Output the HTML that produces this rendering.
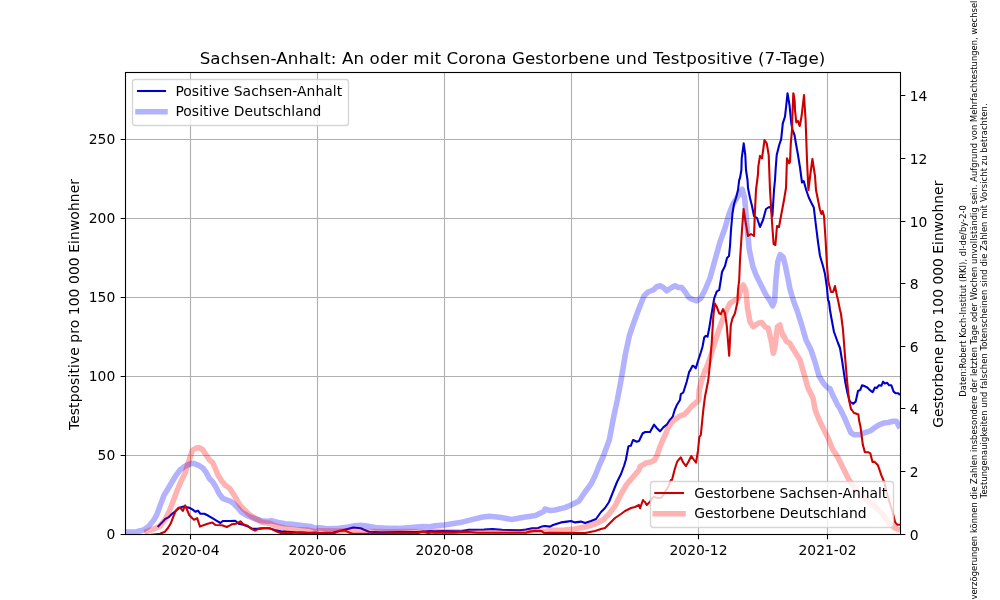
<!DOCTYPE html><html><head><meta charset="utf-8"><title>Sachsen-Anhalt Corona</title>
<style>html,body{margin:0;padding:0;background:#fff;overflow:hidden}svg{display:block}text{font-family:'DejaVu Sans','Liberation Sans',sans-serif}</style></head><body>
<svg width="1000" height="600" viewBox="0 0 1000 600">
<defs><clipPath id="ax"><rect x="125" y="72" width="775" height="462"/></clipPath></defs>
<rect width="1000" height="600" fill="#fff"/>
<path d="M190.5 72V534M317.5 72V534M444.5 72V534M571.5 72V534M698.5 72V534M827.5 72V534M125 455.5H900M125 376.5H900M125 297.5H900M125 218.5H900M125 139.5H900" stroke="#b0b0b0" stroke-width="1.11" fill="none"/>
<g clip-path="url(#ax)" fill="none" stroke-linejoin="round">
<polyline points="157.6,527.0 162.0,522.6 165.2,519.0 168.4,517.4 171.6,514.2 175.6,511.0 179.6,507.8 182.8,506.6 186.0,507.0 189.2,507.8 192.4,509.4 195.6,511.8 198.0,510.6 200.4,513.8 204.4,513.8 208.4,515.8 212.4,518.2 216.4,520.6 220.4,523.0 222.8,521.0 230.0,521.0 235.2,520.8 238.7,523.7 243.3,524.8 248.0,526.6 252.7,528.9 257.3,528.9 262.0,528.3 269.0,528.3 274.8,530.1 280.7,531.3 287.7,531.8 295.8,532.4 307.5,533.0 315.0,532.6 320.0,533.0 333.0,532.6 342.6,530.2 348.6,528.7 353.4,527.5 360.6,528.2 365.4,530.2 369.0,531.8 381.0,532.3 399.0,532.0 417.0,532.0 430.0,531.0 435.0,531.4 442.0,531.0 460.0,531.4 468.4,529.8 484.0,529.5 492.4,529.0 502.0,529.8 520.0,530.2 526.0,529.5 532.0,528.3 538.0,528.0 541.6,526.6 545.0,526.0 550.0,526.6 553.0,525.0 561.0,522.4 567.0,521.6 571.0,521.0 575.0,522.4 581.0,521.6 585.0,523.0 591.0,521.0 596.0,519.0 601.0,512.0 605.0,508.0 609.0,502.0 613.0,492.0 617.0,482.0 621.0,474.0 624.0,466.0 625.8,460.0 627.0,454.0 628.3,446.7 629.0,446.0 630.8,445.8 633.0,440.0 633.3,440.0 636.7,441.7 639.0,441.0 642.7,433.3 645.3,432.0 650.0,432.0 654.0,424.7 656.7,428.0 660.0,431.3 663.3,427.3 666.7,424.7 669.3,420.7 672.7,416.7 674.7,410.0 676.7,405.3 680.0,400.0 680.8,394.2 683.3,392.5 686.7,381.7 689.2,371.7 690.0,370.8 692.5,365.8 693.3,365.8 695.8,368.3 695.8,368.3 698.3,360.0 698.3,360.0 700.8,352.5 702.5,346.7 704.2,337.5 705.8,335.8 707.5,336.7 709.2,328.3 710.8,318.3 712.5,308.3 714.2,298.3 716.7,291.7 719.0,290.0 719.2,290.0 720.8,280.0 722.0,272.0 725.0,266.0 727.0,258.0 729.0,256.0 730.0,246.0 731.0,230.0 732.4,214.0 734.0,204.0 736.0,198.0 738.0,190.0 739.2,180.0 740.0,178.0 741.4,170.0 741.7,158.3 743.7,143.3 745.3,155.0 746.0,170.0 747.5,180.0 748.0,188.0 750.0,198.0 752.0,206.0 754.0,216.0 757.0,218.0 760.0,227.0 763.0,220.0 766.0,209.0 769.0,207.0 771.0,208.0 772.4,216.0 774.0,190.0 775.0,180.0 775.6,170.0 776.7,155.0 779.2,145.0 781.2,139.2 782.8,123.3 785.0,116.7 786.3,105.0 787.5,93.3 789.5,105.0 791.2,122.5 792.5,130.0 794.5,135.0 796.2,145.0 798.0,155.0 800.0,167.5 802.0,182.5 803.8,181.2 806.2,190.0 808.8,197.5 811.2,202.5 813.8,207.5 816.0,226.0 818.0,242.0 820.0,256.0 823.0,266.0 825.0,274.0 827.0,288.0 828.0,300.0 829.0,302.0 830.0,310.0 831.0,316.0 834.0,332.0 838.0,343.0 840.0,348.0 842.0,360.0 845.2,381.7 847.5,393.3 849.8,401.5 853.3,403.8 855.7,401.5 858.0,391.0 860.3,389.8 862.1,385.2 865.0,386.3 867.3,387.5 870.3,390.4 872.6,392.2 874.9,387.5 876.7,388.1 879.0,385.2 881.3,385.8 883.1,381.7 884.8,383.4 887.2,382.8 888.9,385.2 891.3,385.2 893.6,391.6 895.9,393.3 898.3,393.3 900.0,395.1" stroke="#0000cc" stroke-width="2.08"/>
<polyline points="125.0,532.1 136.7,531.7 143.3,530.0 148.3,526.7 153.3,520.8 156.7,515.0 160.0,506.0 164.0,495.3 168.0,488.7 172.0,482.0 176.0,475.3 180.0,470.0 185.3,466.0 190.0,463.9 193.5,463.3 198.2,465.1 202.8,468.0 206.3,472.7 209.3,478.5 212.8,482.0 215.7,486.7 219.2,493.7 222.7,498.3 227.3,500.1 230.8,501.3 234.3,504.2 237.8,507.7 241.3,512.0 248.0,516.0 254.7,518.7 261.3,520.7 268.0,521.3 271.3,520.8 278.3,522.5 285.3,523.7 292.3,524.3 301.7,525.4 311.0,526.6 315.0,528.2 320.0,527.8 327.0,528.8 339.0,528.2 348.6,527.0 354.6,525.8 360.6,525.2 366.6,526.0 375.0,527.6 387.0,528.2 399.0,528.4 411.0,527.6 423.0,526.6 430.0,526.8 435.0,525.8 444.4,525.0 460.0,522.6 472.0,519.6 481.6,517.2 488.8,516.3 499.6,517.2 511.6,519.4 523.6,517.2 535.6,515.4 544.0,511.2 545.0,509.0 550.0,510.6 555.0,510.0 565.0,507.6 571.0,505.0 579.0,501.0 585.0,492.0 591.0,484.0 595.0,476.0 599.0,466.0 603.0,457.0 609.3,440.0 613.3,418.7 617.3,400.0 621.3,378.7 625.3,354.7 629.3,336.0 633.3,324.0 638.7,309.3 644.0,296.0 648.0,292.0 653.3,290.0 656.7,286.7 660.0,285.8 663.3,287.5 666.7,290.8 671.7,287.5 675.0,285.8 678.3,287.5 681.7,287.5 685.0,291.7 688.3,296.7 690.0,298.3 696.7,300.8 700.8,298.3 705.0,290.0 710.0,278.0 715.0,260.0 720.0,242.0 725.0,228.0 729.0,214.0 733.0,204.0 738.0,196.0 742.3,189.3 744.7,198.6 747.0,226.6 749.3,249.9 752.8,266.2 756.3,275.6 761.0,284.9 765.6,294.2 770.3,301.2 772.6,305.9 774.5,301.2 776.1,277.9 777.8,261.6 780.1,254.6 783.1,256.9 785.5,266.2 787.8,277.9 790.1,289.6 793.6,301.2 797.1,310.5 800.1,319.9 802.0,326.0 806.0,340.0 811.0,350.0 815.0,362.0 819.0,376.0 824.0,384.0 828.0,388.0 830.0,388.7 833.5,396.8 837.0,403.8 840.5,409.7 844.0,416.7 847.5,424.8 851.0,433.0 854.5,434.8 859.2,434.8 863.8,433.0 867.3,431.8 870.8,430.7 874.3,427.8 879.0,424.8 883.7,423.1 888.3,422.5 893.0,421.3 896.5,421.3 898.8,426.0 900.0,428.3" stroke="#0000ff" stroke-opacity="0.3" stroke-width="5.56"/>
<polyline points="150.0,535.0 160.0,533.8 165.0,531.7 168.3,527.5 170.8,523.3 173.3,516.7 175.8,510.8 178.3,507.9 180.4,507.8 182.8,511.0 185.2,505.4 187.6,511.0 189.2,515.0 191.6,517.4 194.0,519.8 197.2,518.2 200.0,526.6 202.8,525.4 207.6,523.8 212.4,522.6 215.6,525.0 222.0,525.2 226.8,527.0 230.0,525.4 231.7,524.3 236.3,523.7 240.4,521.3 243.3,524.3 248.0,526.0 251.5,528.9 255.0,530.7 258.5,528.9 264.3,528.3 270.2,528.3 274.8,530.7 280.7,533.0 290.0,533.0 301.7,532.4 315.0,533.3 320.0,533.0 334.2,533.3 339.0,530.8 345.0,530.6 349.8,532.7 353.4,533.9 375.0,533.7 399.0,533.3 417.0,533.3 423.0,531.4 429.0,533.3 430.0,532.2 435.0,532.7 454.0,532.8 466.0,531.9 478.0,532.8 502.0,532.8 526.0,532.8 529.6,531.6 535.6,530.7 541.6,531.0 544.0,532.8 545.0,533.0 550.0,532.8 585.0,533.0 595.0,531.0 601.0,529.0 605.0,528.0 611.0,522.0 615.0,518.0 621.0,514.0 625.0,511.0 631.0,508.0 635.0,507.0 639.0,505.0 640.0,508.3 643.0,500.0 643.3,500.8 645.0,502.0 646.7,505.0 650.0,501.7 653.3,496.7 658.3,498.3 661.7,497.5 665.0,491.7 668.3,486.7 670.8,480.0 672.0,480.0 674.7,469.3 677.3,461.3 680.7,457.3 683.3,462.7 686.0,466.0 688.7,461.3 691.3,456.0 694.0,460.0 696.0,462.7 698.0,450.7 699.3,437.3 700.8,435.0 703.3,410.0 705.0,396.7 708.3,380.0 710.0,363.3 711.7,343.3 713.3,316.7 714.7,303.3 716.7,306.7 719.2,313.3 720.8,314.2 723.0,309.2 725.0,313.3 726.7,325.0 729.2,355.8 730.8,325.0 732.5,318.3 735.0,313.3 737.5,301.7 738.0,290.0 739.2,280.0 740.0,260.0 742.0,230.0 743.6,209.0 745.6,222.0 748.0,236.0 751.0,234.0 754.0,236.0 755.0,210.0 756.0,190.0 758.0,174.0 758.3,166.7 760.0,155.8 762.0,158.3 764.5,140.0 766.7,143.3 768.7,155.0 770.0,190.0 772.0,222.0 773.6,244.0 775.4,245.0 777.0,226.0 779.0,227.0 781.0,216.0 784.0,200.0 786.0,188.0 787.0,158.3 789.2,163.3 790.0,162.0 790.8,143.3 792.0,130.0 792.2,121.7 793.3,93.3 793.6,94.0 794.7,101.7 795.0,110.0 796.3,122.5 796.4,122.0 798.0,121.0 798.3,121.7 799.6,126.0 800.0,125.0 801.6,116.0 804.0,95.0 805.6,120.0 807.0,160.0 808.4,190.0 810.4,174.0 812.4,159.0 815.0,176.0 816.0,190.0 818.0,200.0 818.0,200.0 820.0,210.0 821.4,214.0 822.6,211.0 824.0,216.0 825.6,240.0 827.0,266.0 828.4,282.0 831.0,292.0 833.0,292.0 835.0,286.0 837.0,296.0 838.0,300.0 840.0,310.0 841.0,314.0 843.0,330.0 845.0,356.0 847.0,380.0 849.0,400.0 851.0,409.0 851.9,410.0 854.0,413.0 855.2,413.2 857.0,414.0 858.4,414.3 859.0,420.0 860.6,427.3 862.8,444.6 864.9,452.2 868.2,452.2 870.3,453.3 872.5,461.9 874.7,461.9 877.9,465.2 881.2,474.9 884.4,482.5 886.6,492.3 889.8,503.1 893.1,513.9 895.2,522.6 897.4,524.7 900.0,524.7" stroke="#cc0000" stroke-width="2.08"/>
<polyline points="144.2,532.3 145.0,532.1 153.3,529.2 160.0,526.0 165.3,519.3 169.3,511.3 173.3,500.7 177.3,490.0 181.3,480.7 185.3,472.7 188.0,463.3 190.0,457.5 192.3,450.5 195.8,448.2 199.3,447.6 202.8,449.9 206.3,455.2 209.3,459.8 212.8,462.8 215.1,468.0 218.0,475.0 221.5,480.8 225.0,484.9 229.7,488.4 233.2,493.7 236.7,499.5 240.1,505.3 241.3,506.7 244.7,510.0 248.0,513.3 251.3,516.0 254.7,518.0 258.0,520.0 261.3,522.0 268.0,523.3 269.0,523.1 276.0,526.0 285.3,528.3 295.8,529.5 307.5,530.1 315.0,531.4 320.0,530.7 339.0,531.1 351.0,530.8 363.0,531.4 387.0,531.8 411.0,531.5 430.0,532.2 435.0,531.4 466.0,532.0 502.0,531.9 526.0,531.6 538.0,530.8 545.0,531.6 550.0,530.2 565.0,530.0 575.0,529.0 585.0,527.0 595.0,524.0 603.0,520.0 609.0,514.0 615.0,506.0 621.0,494.0 627.0,484.0 633.0,477.0 639.0,470.0 640.0,466.7 645.3,463.3 650.7,462.0 654.7,460.0 657.3,454.7 660.0,446.7 662.7,440.0 665.3,434.7 668.0,428.0 672.0,422.0 676.0,418.7 680.0,416.0 684.0,414.7 688.0,410.7 692.0,406.0 696.0,402.7 698.7,400.0 699.2,390.0 701.7,380.0 702.5,378.3 705.0,370.0 705.0,371.7 710.0,358.3 715.0,341.7 720.0,326.7 725.0,313.3 730.0,303.3 735.0,300.0 738.3,298.3 740.8,290.0 743.3,285.0 745.8,290.0 747.5,308.3 750.0,321.7 753.3,326.7 758.3,323.3 761.7,322.5 765.0,326.7 768.3,328.3 771.7,343.3 773.3,353.3 775.0,346.7 777.5,326.7 780.0,325.0 780.0,326.0 783.0,336.0 783.3,335.0 785.8,340.0 786.0,341.0 790.0,343.3 790.0,344.0 795.0,352.0 800.0,360.0 804.0,374.0 808.0,388.0 813.0,398.0 815.2,410.0 819.5,420.8 823.8,429.5 828.1,438.1 832.5,449.0 837.9,457.6 843.3,468.4 848.7,479.3 856.3,490.1 864.9,498.7 873.6,505.2 882.3,513.9 888.7,522.6 895.2,528.0 900.0,530.1" stroke="#ff0000" stroke-opacity="0.3" stroke-width="5.56"/>
</g>
<rect x="125.5" y="72.5" width="775" height="462" fill="none" stroke="#000" stroke-width="1.11" stroke-linejoin="miter"/>
<path d="M190.5 534.5v4.86M317.5 534.5v4.86M444.5 534.5v4.86M571.5 534.5v4.86M698.5 534.5v4.86M827.5 534.5v4.86M125.5 534.5h-4.86M125.5 455.5h-4.86M125.5 376.5h-4.86M125.5 297.5h-4.86M125.5 218.5h-4.86M125.5 139.5h-4.86M900.5 534.5h4.86M900.5 471.5h4.86M900.5 408.5h4.86M900.5 346.5h4.86M900.5 283.5h4.86M900.5 221.5h4.86M900.5 158.5h4.86M900.5 95.5h4.86" stroke="#000" stroke-width="1.11" fill="none"/>
<g font-size="13.89px" fill="#000">
<text x="190.50" y="555.2" text-anchor="middle">2020-04</text>
<text x="317.50" y="555.2" text-anchor="middle">2020-06</text>
<text x="444.50" y="555.2" text-anchor="middle">2020-08</text>
<text x="571.50" y="555.2" text-anchor="middle">2020-10</text>
<text x="698.50" y="555.2" text-anchor="middle">2020-12</text>
<text x="827.50" y="555.2" text-anchor="middle">2021-02</text>
<text x="115.28" y="539.28" text-anchor="end">0</text>
<text x="115.28" y="460.28" text-anchor="end">50</text>
<text x="115.28" y="381.28" text-anchor="end">100</text>
<text x="115.28" y="302.28" text-anchor="end">150</text>
<text x="115.28" y="223.28" text-anchor="end">200</text>
<text x="115.28" y="144.28" text-anchor="end">250</text>
<text x="909.72" y="540.28">0</text>
<text x="909.72" y="477.28">2</text>
<text x="909.72" y="414.28">4</text>
<text x="909.72" y="352.28">6</text>
<text x="909.72" y="289.28">8</text>
<text x="909.72" y="227.28">10</text>
<text x="909.72" y="164.28">12</text>
<text x="909.72" y="101.28">14</text>
</g>
<path d="M135.28 125.50H345.72Q348.50 125.50 348.50 122.72V82.28Q348.50 79.50 345.72 79.50H135.28Q132.50 79.50 132.50 82.28V122.72Q132.50 125.50 135.28 125.50Z" fill="#fff" fill-opacity="0.8" stroke="#ccc" stroke-opacity="0.8" stroke-width="1.39"/>
<path d="M138 91H165" stroke="#0000cc" stroke-width="2.08" stroke-linecap="square"/>
<path d="M138 111.8H165" stroke="#0000ff" stroke-opacity="0.3" stroke-width="5.56" stroke-linecap="square"/>
<g font-size="13.89px"><text x="175.4" y="96.05" textLength="166.8">Positive Sachsen-Anhalt</text><text x="175.4" y="116.44" textLength="146">Positive Deutschland</text></g>
<path d="M653.28 527.50H890.72Q893.50 527.50 893.50 524.72V484.28Q893.50 481.50 890.72 481.50H653.28Q650.50 481.50 650.50 484.28V524.72Q650.50 527.50 653.28 527.50Z" fill="#fff" fill-opacity="0.8" stroke="#ccc" stroke-opacity="0.8" stroke-width="1.39"/>
<path d="M655.3 493H683" stroke="#cc0000" stroke-width="2.08" stroke-linecap="square"/>
<path d="M655.3 513.8H683" stroke="#ff0000" stroke-opacity="0.3" stroke-width="5.56" stroke-linecap="square"/>
<g font-size="13.89px"><text x="694.21" y="498.23">Gestorbene Sachsen-Anhalt</text><text x="694.21" y="517.7">Gestorbene Deutschland</text></g>
<text x="512.5" y="63.67" font-size="16.67px" text-anchor="middle" textLength="625.7">Sachsen-Anhalt: An oder mit Corona Gestorbene und Testpositive (7-Tage)</text>
<text transform="translate(79.3 304.5) rotate(-90)" font-size="13.89px" text-anchor="middle" textLength="251.1">Testpositive pro 100 000 Einwohner</text>
<text transform="translate(942.5 304.25) rotate(-90)" font-size="13.89px" text-anchor="middle">Gestorbene pro 100 000 Einwohner</text>
<g font-size="8.33px" text-anchor="middle">
<text transform="translate(966.2 300.9) rotate(-90)" textLength="191.6">Daten:Robert Koch-Institut (RKI), dl-de/by-2-0</text>
<text transform="translate(976.8 652.7) rotate(-90)" text-anchor="start" textLength="671.5">Durch Meldeverzögerungen können die Zahlen insbesondere der letzten Tage oder Wochen unvollständig sein. Aufgrund von Mehrfachtestungen, wechselnder</text>
<text transform="translate(986.8 300.9) rotate(-90)" textLength="394.9">Testungenauigkeiten und falschen Totenscheinen sind die Zahlen mit Vorsicht zu betrachten.</text>
</g>
</svg></body></html>
